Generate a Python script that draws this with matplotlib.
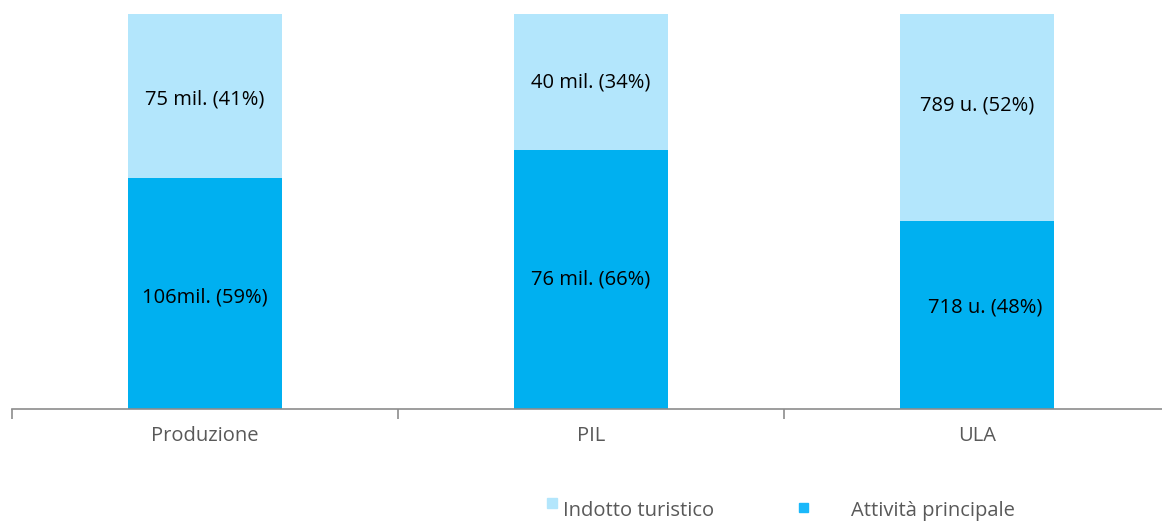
import matplotlib
matplotlib.use('Agg')
import matplotlib.pyplot as plt
from matplotlib.patches import Rectangle
import numpy as np

# dati
categorie = ['Produzione', 'PIL', 'ULA']
attivita = [106, 76, 718]     # attività principale
indotto = [75, 40, 789]       # indotto turistico
etichette_att = ['106mil. (59%)', '76 mil. (66%)', '718 u. (48%)']
etichette_ind = ['75 mil. (41%)', '40 mil. (34%)', '789 u. (52%)']

COL_ATT = '#00B0F0'
COL_IND = '#B3E6FC'
GRIGIO = '#595959'
FS = 14.5

plt.rcParams['font.family'] = ['Open Sans', 'DejaVu Sans']

att = np.array(attivita, dtype=float)
ind = np.array(indotto, dtype=float)
tot = att + ind
q_att = att / tot
q_ind = ind / tot

fig = plt.figure(figsize=(11.62, 5.22), dpi=100)
ax = fig.add_axes([12 / 1162, 113 / 522, 1150 / 1162, 395 / 522])

x = np.arange(len(categorie))
ax.bar(x, q_att, width=0.4, color=COL_ATT)
ax.bar(x, q_ind, width=0.4, bottom=q_att, color=COL_IND)

# piccoli spostamenti delle etichette come nell'originale (dx in categorie, dy in quota)
dx_att = [0, 0, 0.02]
dy_att = [-0.01, 0, 0.02]
dy_ind = [-0.01, 0, 0.03]
for i in range(len(categorie)):
    ax.text(x[i] + dx_att[i], q_att[i] / 2 + dy_att[i], etichette_att[i],
            ha='center', va='center', fontsize=FS, color='black')
    ax.text(x[i], q_att[i] + q_ind[i] / 2 + dy_ind[i], etichette_ind[i],
            ha='center', va='center', fontsize=FS, color='black')

ax.set_xlim(-0.5, -0.5 + 1150 / 386)
ax.set_ylim(0, 1)
for s in ['top', 'right', 'left']:
    ax.spines[s].set_visible(False)
ax.spines['bottom'].set_color('#8c8c8c')
ax.spines['bottom'].set_linewidth(1.2)
ax.set_yticks([])
ax.set_xticks(x)
ax.set_xticklabels(categorie, fontsize=FS, color=GRIGIO)
ax.tick_params(axis='x', which='major', length=0, pad=12)
ax.set_xticks([-0.5, 0.5, 1.5], minor=True)
ax.tick_params(axis='x', which='minor', length=7, width=1.2, color='#8c8c8c')

# legenda
fig.patches.append(Rectangle((547 / 1162, 1 - 508 / 522), 10 / 1162, 10 / 522,
                             transform=fig.transFigure, color=COL_IND))
fig.text(563 / 1162, 1 - 511 / 522, 'Indotto turistico', fontsize=FS,
         color=GRIGIO, va='center')
fig.patches.append(Rectangle((799 / 1162, 1 - 512 / 522), 9 / 1162, 9 / 522,
                             transform=fig.transFigure, color='#1AB8FA'))
fig.text(851 / 1162, 1 - 511 / 522, 'Attività principale', fontsize=FS,
         color=GRIGIO, va='center')

fig.savefig('out.png', dpi=100)
